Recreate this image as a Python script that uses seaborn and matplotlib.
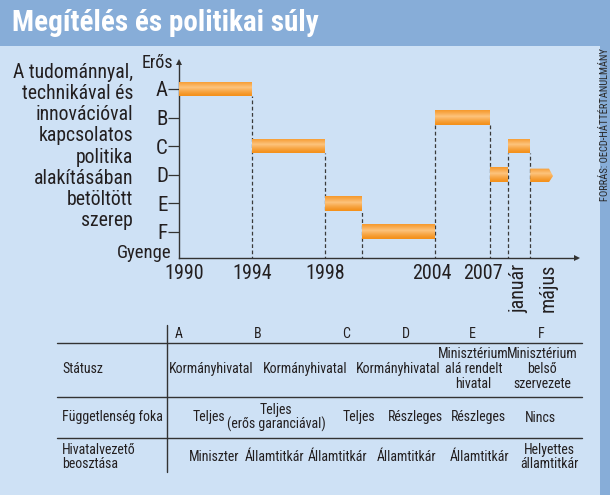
import numpy as np
import matplotlib
matplotlib.use("Agg")
import matplotlib.pyplot as plt
import seaborn as sns
from matplotlib import font_manager as fm
from matplotlib.patches import Polygon, Rectangle
from matplotlib.lines import Line2D
from matplotlib.transforms import ScaledTranslation

# ---------------- data ----------------
levels = ['A', 'B', 'C', 'D', 'E', 'F']
level_values = [6, 5, 4, 3, 2, 1]
seg_start = [1990, 1994, 1998, 2000, 2004, 2007, 2008, 2009.2]
seg_end = [1994, 1998, 2000, 2004, 2007, 2008, 2009.2, 2010.45]
seg_level = ['A', 'C', 'E', 'F', 'B', 'D', 'C', 'D']
seg_ongoing = [False, False, False, False, False, False, False, True]
xtick_pos = [1990, 1994, 1998, 2004, 2007, 2008, 2009.2]
xtick_labels = ['1990', '1994', '1998', '2004', '2007', 'január', 'május']

ylabel_text = ("A tudománnyal,\ntechnikával és\ninnovációval\nkapcsolatos\n"
               "politika\nalakításában\nbetöltött\nszerep")
title_text = "Megítélés és politikai súly"
source_text = "FORRÁS: OECD-HÁTTÉRTANULMÁNY"

table_cols = ['A', 'B', 'C', 'D', 'E', 'F']
row_labels = ['Státusz', 'Függetlenség foka', 'Hivatalvezető\nbeosztása']
row_status = ['Kormányhivatal', 'Kormányhivatal', '', 'Kormányhivatal',
              'Minisztérium\nalá rendelt\nhivatal', 'Minisztérium\nbelső\nszervezete']
row_indep = ['Teljes', 'Teljes\n(erős garanciával)', 'Teljes', 'Részleges',
             'Részleges', 'Nincs']
row_leader = ['Miniszter', 'Államtitkár', 'Államtitkár', 'Államtitkár',
              'Államtitkár', 'Helyettes\nállamtitkár']

# ---------------- style ----------------
sns.set_theme(style="white")
avail = {f.name for f in fm.fontManager.ttflist}
NARROW = next((n for n in ['Liberation Sans Narrow', 'DejaVu Sans Condensed',
                           'Roboto Condensed', 'Liberation Sans'] if n in avail), 'DejaVu Sans')
plt.rcParams['font.family'] = [NARROW, 'DejaVu Sans']

BG = '#CEE1F5'
BAR = '#87ADD8'
INK = '#231F20'
W, H = 610, 495


def fx(px):
    return px / W


def fy(py):
    return 1 - py / H


fig = plt.figure(figsize=(W / 100, H / 100), dpi=100)
fig.patch.set_facecolor(BG)
fig.add_artist(Rectangle((0, fy(46)), 1, 46 / H, transform=fig.transFigure,
                         facecolor=BAR, edgecolor='none', zorder=0))
fig.add_artist(Rectangle((fx(600), 0), 10 / W, fy(46), transform=fig.transFigure,
                         facecolor=BAR, edgecolor='none', zorder=0))
fig.text(fx(12), fy(23), title_text, color='white', fontsize=21, fontweight='bold',
         ha='left', va='center', family=[NARROW, 'DejaVu Sans'])
fig.text(fx(604.5), fy(48), source_text, rotation=90, ha='center', va='top',
         fontsize=7.6, color='#2a2a2a')

# ---------------- chart ----------------
ax = fig.add_axes([fx(179), fy(258), (577 - 179) / W, (258 - 62) / H])
ax.set_facecolor('none')
lvl = dict(zip(levels, level_values))
bh = 0.52

edge = np.array([244, 144, 26]) / 255
mid = np.array([253, 196, 126]) / 255
t = np.linspace(0, 1, 40)
w = np.clip(1 - np.abs(t - 0.42) / 0.58, 0, 1) ** 1.3
grad = (edge[None, :] * (1 - w[:, None]) + mid[None, :] * w[:, None])[:, None, :]

for x0, x1, lv, ong in zip(seg_start, seg_end, seg_level, seg_ongoing):
    yv = lvl[lv]
    y0, y1 = yv - bh / 2, yv + bh / 2
    if ong:
        verts = [(x0, y0), (x1 - 0.22, y0), (x1, yv - 0.05), (x1 - 0.22, y1 - 0.05), (x0, y1 - 0.05)]
    else:
        verts = [(x0, y0), (x1, y0), (x1, y1), (x0, y1)]
    poly = Polygon(verts, closed=True, facecolor='none', edgecolor='none')
    ax.add_patch(poly)
    im = ax.imshow(grad, extent=(x0, x1, y0, y1), origin='upper', aspect='auto',
                   interpolation='bilinear', zorder=3)
    im.set_clip_path(poly)

# dashed connectors at transitions
for i in range(len(seg_start) - 1):
    xb = seg_end[i]
    top = max(lvl[seg_level[i]], lvl[seg_level[i + 1]]) - bh / 2
    ax.plot([xb, xb], [0, top], color='#3a3a3a', lw=0.9, ls=(0, (3, 2)), zorder=2)

ax.set_xlim(1990, 1990 + 398 / 18.29)
ax.set_ylim(0.078, 6.946)

for s in ['top', 'right']:
    ax.spines[s].set_visible(False)
for s in ['left', 'bottom']:
    ax.spines[s].set_color('#333333')
    ax.spines[s].set_linewidth(1.0)
ax.plot(1, 0, marker='>', transform=ax.transAxes, clip_on=False, ms=4, color='#333333', mew=0)
ax.plot(0, 1, marker='^', transform=ax.transAxes, clip_on=False, ms=4, color='#333333', mew=0)

ax.set_yticks(level_values)
ax.set_yticklabels(levels, fontsize=15, color=INK)
ax.tick_params(axis='y', direction='out', length=8, width=0.9, color='#333333', pad=0, left=True)
ax.set_xticks(xtick_pos)
ax.set_xticklabels(xtick_labels, fontsize=14.5, color=INK)
ax.tick_params(axis='x', length=0, pad=4, bottom=True)
offsets = {'1990': 5, '2004': -3, '2007': -7, 'január': 10, 'május': 18}
for lab in ax.get_xticklabels():
    txt = lab.get_text()
    if txt in ('január', 'május'):
        lab.set_rotation(90)
        lab.set_va('top')
        lab.set_ha('center')
    if txt in offsets:
        lab.set_transform(lab.get_transform() + ScaledTranslation(offsets[txt] / 100, 0, fig.dpi_scale_trans))

fig.text(fx(173), fy(63), 'Erős', ha='right', va='center', fontsize=13, color=INK)
fig.text(fx(171), fy(253), 'Gyenge', ha='right', va='center', fontsize=13.5, color=INK)
fig.text(fx(133), fy(146.5), ylabel_text, ha='right', va='center', fontsize=14.2,
         color=INK, linespacing=1.14)

# ---------------- table ----------------
LC = '#333333'
for yy in (343.3, 397.3, 437.7):
    fig.add_artist(Line2D([fx(57), fx(582)], [fy(yy), fy(yy)], transform=fig.transFigure,
                          color=LC, lw=1))
fig.add_artist(Line2D([fx(167.3), fx(167.3)], [fy(325), fy(471.7)], transform=fig.transFigure,
                      color=LC, lw=1))

TFS = 10
head_x = [179, 258, 345.7, 406, 472, 541.7]
for c, xx in zip(table_cols, head_x):
    fig.text(fx(xx), fy(334), c, ha='center', va='center', fontsize=TFS, color=INK)

row_y = [369, 417.5, 457]
row_x = [[211, 305, 345, 398.5, 473.7, 542],
         [208.5, 276, 358.7, 415.7, 478.7, 540],
         [214.5, 275, 337.5, 407, 480, 549]]
for lab, yy in zip(row_labels, row_y):
    fig.text(fx(62), fy(yy), lab, ha='left', va='center', fontsize=TFS, color=INK,
             linespacing=1.05)
for vals, xs, yy in zip([row_status, row_indep, row_leader], row_x, row_y):
    for v, xx in zip(vals, xs):
        if v:
            fig.text(fx(xx), fy(yy), v, ha='center', va='center', fontsize=TFS,
                     color=INK, linespacing=1.05)

fig.savefig('out.png', dpi=100, facecolor=fig.get_facecolor())
